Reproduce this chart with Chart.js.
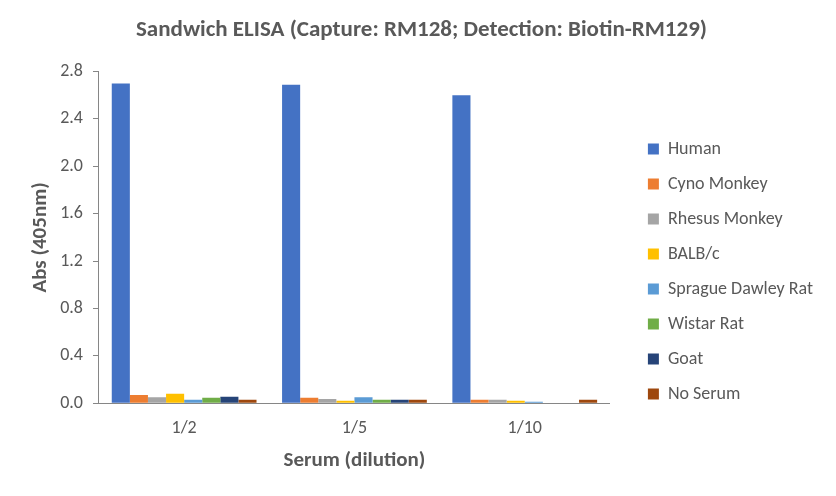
<!DOCTYPE html>
<html>
<head>
<meta charset="utf-8">
<script src="https://cdn.jsdelivr.net/npm/chart.js@4"></script>
<style>
  html, body { margin: 0; padding: 0; background: #fff; }
  #wrap { width: 836px; height: 496px; }
</style>
</head>
<body>
<div id="wrap"><canvas id="elisaChart" width="836" height="496"></canvas></div>
<script>
// date
const dilutions = ['1/2', '1/5', '1/10'];
const human = [2.70, 2.69, 2.60];
const cynoMonkey = [0.07, 0.045, 0.03];
const rhesusMonkey = [0.05, 0.035, 0.03];
const balbC = [0.08, 0.02, 0.02];
const spragueDawley = [0.03, 0.05, 0.012];
const wistarRat = [0.045, 0.03, 0];
const goat = [0.055, 0.03, 0];
const noSerum = [0.03, 0.03, 0.03];

const FONT = "Carlito, Lato, 'Open Sans', sans-serif";
const GREY_TEXT = '#595959';
const AXIS = '#868686';
const LEGEND_GAP = 21; // spatiu suplimentar intre grafic si legenda
const LEGEND_DY = 30;  // legenda e putin mai jos decat centrul

const series = [
    { label: 'Human', data: human, color: '#4472C4' },
    { label: 'Cyno Monkey', data: cynoMonkey, color: '#ED7D31' },
    { label: 'Rhesus Monkey', data: rhesusMonkey, color: '#A5A5A5' },
    { label: 'BALB/c', data: balbC, color: '#FFC000' },
    { label: 'Sprague Dawley Rat', data: spragueDawley, color: '#5B9BD5' },
    { label: 'Wistar Rat', data: wistarRat, color: '#70AD47' },
    { label: 'Goat', data: goat, color: '#264478' },
    { label: 'No Serum', data: noSerum, color: '#9E480E' }
];

const chart = new Chart(document.getElementById('elisaChart').getContext('2d'), {
    type: 'bar',
    data: {
        labels: dilutions,
        datasets: series.map(s => ({
            label: s.label,
            data: s.data,
            backgroundColor: s.color,
            borderWidth: 0,
            categoryPercentage: 0.85,
            barPercentage: 1.0
        }))
    },
    options: {
        responsive: false,
        animation: false,
        devicePixelRatio: 1,
        layout: { padding: { top: 10, right: 13, left: 20, bottom: 23 } },
        scales: {
            x: {
                grid: { display: true, drawOnChartArea: false, drawTicks: false },
                border: { color: AXIS, width: 1 },
                ticks: { color: GREY_TEXT, font: { family: FONT, size: 18 }, padding: 14 },
                title: { display: true, text: 'Serum (dilution)', color: GREY_TEXT, font: { family: FONT, size: 21, weight: 'bold' }, padding: { top: -5, bottom: 0 } }
            },
            y: {
                min: 0,
                max: 2.8,
                grid: { display: true, drawOnChartArea: false, drawTicks: true, tickLength: 6, color: AXIS },
                border: { color: AXIS, width: 1 },
                ticks: { stepSize: 0.4, color: GREY_TEXT, font: { family: FONT, size: 18 }, padding: 10, callback: v => v.toFixed(1) },
                title: { display: true, text: 'Abs (405nm)', color: GREY_TEXT, font: { family: FONT, size: 21, weight: 'bold' }, padding: { top: 8, bottom: -3 } }
            }
        },
        plugins: {
            title: {
                display: true,
                text: 'Sandwich ELISA (Capture: RM128; Detection: Biotin-RM129)',
                color: GREY_TEXT,
                font: { family: FONT, size: 23, weight: 'bold' },
                padding: { top: 6, bottom: 28 }
            },
            legend: {
                position: 'right',
                align: 'center',
                labels: {
                    boxWidth: 11,
                    boxHeight: 11,
                    padding: 17,
                    color: GREY_TEXT,
                    font: { family: FONT, size: 18 }
                }
            },
            tooltip: { enabled: false }
        }
    }
});

// Legenda mai departe de zona graficului si putin mai jos
const legend = chart.legend;
const origFit = legend.fit.bind(legend);
legend.fit = function () { origFit(); this.width += LEGEND_GAP; };
const origDraw = legend.draw.bind(legend);
legend.draw = function () {
    this.left += LEGEND_GAP;
    this.top += LEGEND_DY;
    this.bottom += LEGEND_DY;
    origDraw();
    this.left -= LEGEND_GAP;
    this.top -= LEGEND_DY;
    this.bottom -= LEGEND_DY;
};
chart.update();
</script>
</body>
</html>
